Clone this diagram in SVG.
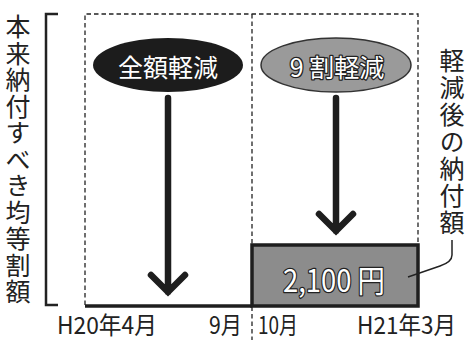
<svg xmlns="http://www.w3.org/2000/svg" width="469" height="342" viewBox="0 0 469 342">
<style>
text{font-family:"Noto Sans CJK JP","Liberation Sans",sans-serif;fill:#222}
.dash{stroke:#222;stroke-width:1.3;stroke-dasharray:4.5 3;fill:none}
.arrow{stroke:#1e1e1e;stroke-width:6.5;fill:none;stroke-linecap:round;stroke-linejoin:miter}
.vt{writing-mode:vertical-rl;font-size:25px}
.lbl{font-size:24px}
.out{fill:#fff;stroke:#222;stroke-width:2.5;paint-order:stroke;stroke-linejoin:round}
</style>
<rect width="469" height="342" fill="#fff"/>
<g id="frame">
<path class="dash" d="M85 305 V14 H418 V245"/>
<path class="dash" d="M252 14 V340"/>
<path d="M58 14 H46 V305 H58" fill="none" stroke="#222" stroke-width="2.5"/>
<path d="M85 306 H252" stroke="#1e1e1e" stroke-width="3.5"/>
</g>
<g id="ylabel"><text class="vt" x="18" y="14" letter-spacing="1.5">本来納付すべき均等割額</text></g>
<g id="node-full">
<ellipse cx="168" cy="65" rx="75" ry="27" fill="#1c1c1c"/>
<text x="168" y="66" font-size="25" text-anchor="middle" dominant-baseline="central" style="fill:#fff">全額軽減</text>
</g>
<g id="node-90">
<ellipse cx="336" cy="65" rx="75" ry="27" fill="#9a9a9a" stroke="#333" stroke-width="1.5"/>
<text class="out" x="337" y="66" font-size="25" text-anchor="middle" dominant-baseline="central">9 割軽減</text>
</g>
<g id="node-amount">
<rect x="252" y="245" width="166" height="61" fill="#8c8c8c" stroke="#1e1e1e" stroke-width="3.5"/>
<text class="out" x="334" y="278" font-size="31" text-anchor="middle" dominant-baseline="central" textLength="102" lengthAdjust="spacingAndGlyphs">2,100 円</text>
</g>
<g id="rlabel"><text class="vt" x="452" y="48" letter-spacing="2">軽減後の納付額</text></g>
<g id="connectors">
<path class="arrow" d="M168 98 V292 M151 275 L168 292 L185 275"/>
<path class="arrow" d="M336 98 V231 M319 214 L336 231 L353 214"/>
<path d="M452 240 V255 Q452 262 440 266 L408 277" fill="none" stroke="#222" stroke-width="1.5"/>
</g>
<g id="xlabels">
<text class="lbl" x="57" y="334" textLength="100" lengthAdjust="spacingAndGlyphs">H20年4月</text>
<text class="lbl" x="209" y="334" textLength="33" lengthAdjust="spacingAndGlyphs">9月</text>
<text class="lbl" x="258" y="334" textLength="40" lengthAdjust="spacingAndGlyphs">10月</text>
<text class="lbl" x="456" y="334" text-anchor="end" textLength="99" lengthAdjust="spacingAndGlyphs">H21年3月</text>
</g>
</svg>
